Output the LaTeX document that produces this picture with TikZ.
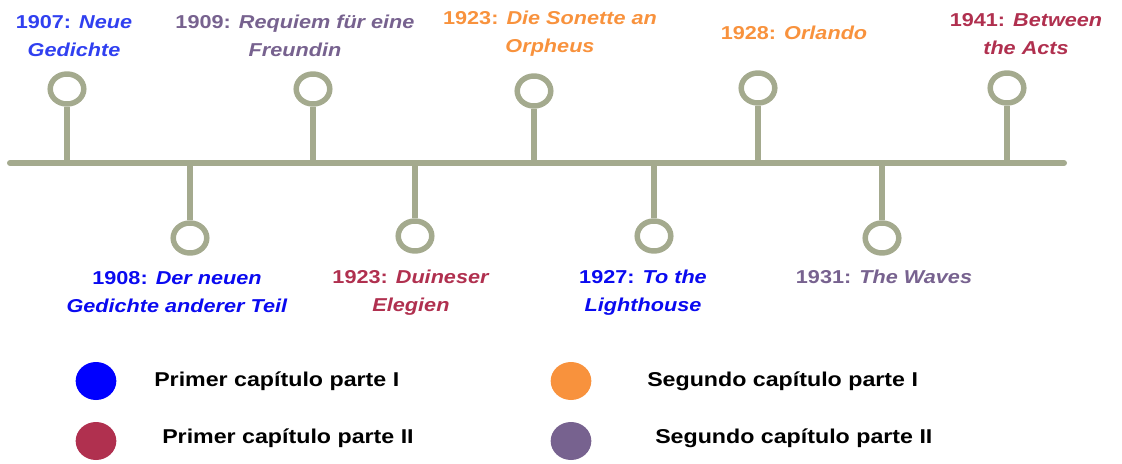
\documentclass[tikz,border=0pt]{standalone}
\usepackage{fontspec}
\newfontfamily\lab{Liberation Sans}[FakeStretch=1.16]
\usetikzlibrary{shapes.geometric}
\definecolor{sage}{HTML}{A4AA8E}
\definecolor{blueA}{HTML}{3040F0}
\definecolor{blueB}{HTML}{0A0AF0}
\definecolor{legblue}{HTML}{0000FF}
\definecolor{orng}{HTML}{F8923D}
\definecolor{crim}{HTML}{B0304F}
\definecolor{purp}{HTML}{77628F}
\tikzset{
  pin/.style={ellipse, draw=sage, line width=4.1pt, fill=white, minimum width=25.2pt, minimum height=22.5pt, inner sep=0pt},
  stem/.style={draw=sage, line width=4.2pt},
  mainline/.style={draw=sage, line width=4.5pt, line cap=round},
  lbl/.style={font=\lab\bfseries\fontsize{14}{21}\selectfont, align=center, anchor=base, inner sep=0pt},
  legtxt/.style={font=\lab\bfseries\fontsize{15}{18}\selectfont, anchor=base west, inner sep=0pt},
  legdot/.style={ellipse, minimum width=30.5pt, minimum height=28.5pt, inner sep=0pt}
}
\begin{document}
\begin{tikzpicture}[x=0.75pt, y=-0.75pt]
\useasboundingbox (0,0) rectangle (1122,464);
% main line
\coordinate (L) at (10,163);
\coordinate (R) at (1064,163);
\draw[mainline] (L) -- (R);
% upper pins
\node[pin] (u1) at (67,89) {};
\node[pin] (u2) at (313,89) {};
\node[pin] (u3) at (534,91) {};
\node[pin] (u4) at (758,88) {};
\node[pin] (u5) at (1007,88) {};
% lower pins
\node[pin] (d1) at (190,238) {};
\node[pin] (d2) at (415,236) {};
\node[pin] (d3) at (654,236) {};
\node[pin] (d4) at (882,238) {};
% stems
\foreach \n in {u1,u2,u3,u4,u5} {
  \draw[stem] (\n.south) -- (\n.south |- L);
}
\foreach \n in {d1,d2,d3,d4} {
  \draw[stem] (\n.north) -- (\n.north |- L);
}
% labels above (anchor = baseline of last line)
\node[lbl, text=blueA] (t1) at (74,56) {1907: \textit{Neue}\\\textit{Gedichte}};
\node[lbl, text=purp] (t2) at (295,56) {1909: \textit{Requiem für eine}\\\textit{Freundin}};
\node[lbl, text=orng] (t3) at (550,52) {1923: \textit{Die Sonette an}\\\textit{Orpheus}};
\node[lbl, text=orng] (t4) at (794,39) {1928: \textit{Orlando}};
\node[lbl, text=crim] (t5) at (1026,55) {1941: \textit{Between}\\\textit{the Acts}};
% labels below
\node[lbl, text=blueB] (b1) at (177,312) {1908: \textit{Der neuen}\\\textit{Gedichte anderer Teil}};
\node[lbl, text=crim] (b2) at (411,311) {1923: \textit{Duineser}\\\textit{Elegien}};
\node[lbl, text=blueB] (b3) at (643,311) {1927: \textit{To the}\\\textit{Lighthouse}};
\node[lbl, text=purp] (b4) at (884,283) {1931: \textit{The Waves}};
% legend
\node[legdot, fill=legblue] (k1) at (96,381) {};
\node[legdot, fill=crim] (k2) at (96,441) {};
\node[legdot, fill=orng] (k3) at (571,381) {};
\node[legdot, fill=purp] (k4) at (571,441) {};
\node[legtxt] (k1t) at (154,386) {Primer capítulo parte I};
\node[legtxt] (k2t) at (162,443) {Primer capítulo parte II};
\node[legtxt] (k3t) at (647,386) {Segundo capítulo parte I};
\node[legtxt] (k4t) at (655,443) {Segundo capítulo parte II};
\end{tikzpicture}
\end{document}
